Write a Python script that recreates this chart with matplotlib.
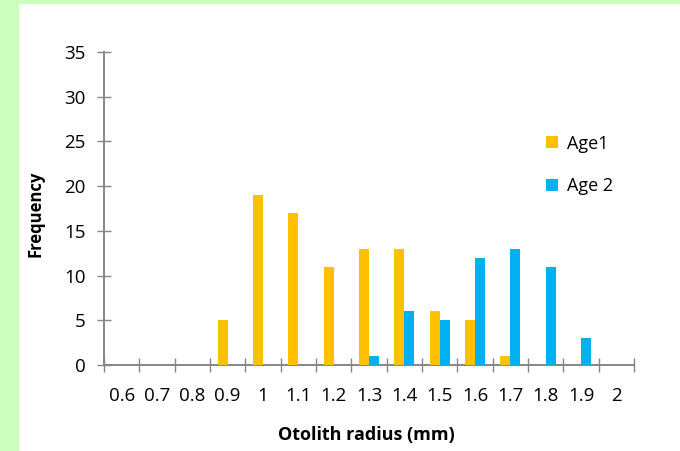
import numpy as np
import matplotlib.pyplot as plt
from matplotlib.patches import Rectangle

plt.rcParams['font.family'] = ['Open Sans', 'DejaVu Sans']

radius = ['0.6', '0.7', '0.8', '0.9', '1', '1.1', '1.2', '1.3', '1.4', '1.5',
          '1.6', '1.7', '1.8', '1.9', '2']
age1 = [0, 0, 0, 5, 19, 17, 11, 13, 13, 6, 5, 1, 0, 0, 0]
age2 = [0, 0, 0, 0, 0, 0, 0, 1, 6, 5, 12, 13, 11, 3, 0]

axis_grey = '#868686'

fig = plt.figure(figsize=(6.8, 4.51), dpi=100)
fig.patch.set_facecolor('#ccffbb')
# white chart area, the green only shows as a border on the left and top
fig.patches.append(Rectangle((19 / 680, 0), 1, 1 - 4 / 451, transform=fig.transFigure,
                             facecolor='white', edgecolor='none', zorder=-10))

ax = fig.add_axes([104 / 680, 1 - 365 / 451, 530 / 680, 313 / 451])
ax.set_facecolor('none')
ax.set_zorder(1)

x = np.arange(len(radius))
w = 0.28
ax.bar(x - w / 2, age1, width=w, color='#ffc000', label='Age1', zorder=3)
ax.bar(x + w / 2, age2, width=w, color='#00b0f0', label='Age 2', zorder=3)

ax.set_xlim(-0.5, len(radius) - 0.5)
ax.set_ylim(0, 35)
ax.set_yticks(range(0, 36, 5))

# tick marks at category boundaries, labels in the middle
ax.set_xticks(np.arange(-0.5, len(radius), 1.0))
ax.set_xticklabels([])
ax.set_xticks(x, minor=True)
ax.set_xticklabels(radius, minor=True)
ax.tick_params(axis='x', which='major', direction='inout', length=9.5, width=1, color=axis_grey)
ax.tick_params(axis='x', which='minor', length=0, pad=16, labelsize=13.5)
ax.tick_params(axis='y', direction='inout', length=10.5, width=1, color=axis_grey, pad=8, labelsize=13.5)

for side in ['top', 'right']:
    ax.spines[side].set_visible(False)
for side in ['left', 'bottom']:
    ax.spines[side].set_color(axis_grey)
    ax.spines[side].set_linewidth(1.4)

ax.set_xlabel('Otolith radius (mm)', fontsize=13, fontweight='bold')
ax.xaxis.set_label_coords((366 - 104) / 530, -(426 - 365) / 313)
ax.set_ylabel('Frequency', fontsize=12, fontweight='bold')
ax.yaxis.set_label_coords(-(104 - 44) / 530, (365 - 214) / 313)

ax.legend(loc='center left', bbox_to_anchor=(530 / 680, 1 - 165 / 451),
          bbox_transform=fig.transFigure, frameon=False, fontsize=13,
          handlelength=0.65, handleheight=0.65, handletextpad=0.5, labelspacing=1.35)

fig.savefig('out.png', dpi=100, facecolor=fig.get_facecolor())
